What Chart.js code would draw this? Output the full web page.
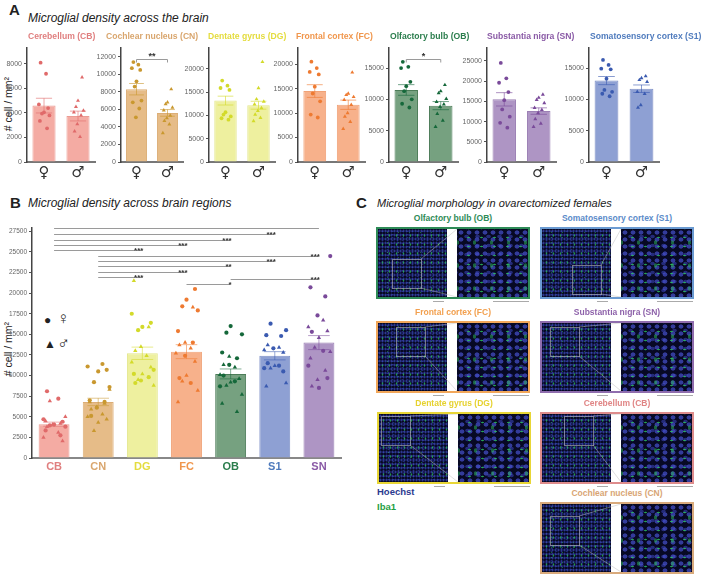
<!DOCTYPE html>
<html>
<head>
<meta charset="utf-8">
<script src="https://cdn.jsdelivr.net/npm/chart.js@4.4.1/dist/chart.umd.min.js"></script>
<style>
    body { margin: 0; background: #fff; width: 702px; height: 576px; position: relative; overflow: hidden;
           font-family: "Liberation Sans", Arial, sans-serif; color: #222; }
    .abs { position: absolute; white-space: nowrap; }
    canvas { position: absolute; }
    .letter { font-weight: bold; font-size: 15px; }
    .ptitle { font-style: italic; font-size: 12px; }
    .sub { font-weight: bold; font-size: 8.6px; }
    .csub { font-weight: bold; font-size: 8.5px; text-align: center; width: 200px; }
    .ylab { font-size: 10.5px; width: 120px; text-align: center; transform: rotate(-90deg); }
    .box { position: absolute; box-sizing: border-box; border: 2px solid; background: #fff; }
    .micro { position: absolute; top: 0; height: 100%; background-color: #070924; }
    .micro-l { background-image:
                   radial-gradient(rgba(40, 190, 80, .75) 0.6px, transparent 1.1px),
                   radial-gradient(rgba(40, 190, 80, .5) 0.5px, transparent 1px),
                   radial-gradient(rgba(60, 75, 190, .7) 0.8px, transparent 1.3px),
                   radial-gradient(rgba(55, 70, 180, .55) 0.7px, transparent 1.2px);
               background-size: 7px 9px, 11px 5px, 3px 4px, 5px 3px;
               background-position: 1px 2px, 4px 1px, 0 0, 2px 1px; }
    .micro-r { background-image:
                   radial-gradient(rgba(45, 200, 95, .8) 0.9px, transparent 1.6px),
                   radial-gradient(rgba(45, 190, 90, .5) 1.2px, transparent 2px),
                   radial-gradient(rgba(70, 80, 205, .7) 2px, transparent 2.8px),
                   radial-gradient(rgba(60, 70, 190, .55) 1.8px, transparent 2.6px);
               background-size: 13px 9px, 17px 23px, 8px 7px, 11px 9px;
               background-position: 5px 4px, 9px 2px, 0 0, 4px 3px; }
    .zoomsq { position: absolute; border: 1px solid rgba(190, 190, 190, .6); }
    .scalebar { position: absolute; height: 1px; background: #aaa; }
</style>
</head>
<body>

<div class="abs letter" style="left:9px; top:1px;">A</div>
<div class="abs ptitle" style="left:28px; top:11px;">Microglial density across the brain</div>
<div class="abs ylab" style="left:-52px; top:98px;"># cell / mm²</div>

<div class="abs letter" style="left:10px; top:194px;">B</div>
<div class="abs ptitle" style="left:28px; top:196px;">Microglial density across brain regions</div>
<div class="abs ylab" style="left:-52px; top:343px;"># cell / mm²</div>
<div class="abs" style="left:44px; top:313px; font-size:12px;">●</div>
<div class="abs" style="left:57px; top:309px; font-size:17px;">♀</div>
<div class="abs" style="left:44px; top:337px; font-size:12px;">▲</div>
<div class="abs" style="left:57px; top:334px; font-size:17px;">♂</div>

<div class="abs letter" style="left:356px; top:194px;">C</div>
<div class="abs ptitle" style="left:377px; top:197px; font-size:11px;">Microglial morphology in ovarectomized females</div>
<div class="abs" style="left:377px; top:486px; font-size:9.5px; font-weight:bold; color:#2b3a8f;">Hoechst</div>
<div class="abs" style="left:377px; top:501px; font-size:9.5px; font-weight:bold; color:#1fa043;">Iba1</div>

<script>
// ---- panel A: per region, female vs male ----
const regionCodes = ['CB', 'CN', 'DG', 'FC', 'OB', 'SN', 'S1'];
const regionNames = ['Cerebellum (CB)', 'Cochlear nucleus (CN)', 'Dentate gyrus (DG)', 'Frontal cortex (FC)',
    'Olfactory bulb (OB)', 'Substantia nigra (SN)', 'Somatosensory cortex (S1)'];
const sexLabels = ['♀', '♂'];

const femaleMean = [4600, 8300, 13200, 14500, 11500, 15500, 13000];
const femaleSem = [600, 650, 950, 1300, 850, 1650, 650];
const maleMean = [3750, 5600, 12200, 11700, 9000, 12600, 11700];
const maleSem = [400, 380, 850, 950, 650, 800, 600];

const femalePoints = [
    [8100, 7200, 4700, 4400, 4050, 3950, 3800, 3350, 2750],
    [11400, 11100, 10700, 10500, 9200, 8600, 7000, 6800, 6100, 5100],
    [17500, 16400, 15900, 15500, 10700, 10200, 9800, 9400, 9100],
    [20500, 19200, 18400, 17900, 15400, 14000, 12400, 9700, 9100],
    [16000, 15200, 15000, 12800, 12100, 11300, 10000, 9300, 8700],
    [24500, 20700, 19600, 17300, 15300, 13000, 11200, 9700, 8500],
    [16300, 15500, 14900, 14800, 13300, 11500, 11200, 10900, 10500],
];
const malePoints = [
    [6900, 5000, 4500, 4200, 4050, 3800, 3100, 2500, 2050],
    [8300, 6800, 6600, 6200, 5900, 5300, 5000, 4700, 4300, 3300],
    [21500, 15900, 13500, 13000, 12400, 11600, 11000, 10200, 9500, 8800],
    [18300, 14000, 13700, 13300, 12700, 11700, 10000, 9300, 8200, 6800],
    [12300, 11300, 11000, 10100, 9600, 9200, 8800, 7700, 6600, 5600],
    [16700, 15900, 15400, 14600, 13400, 12900, 12100, 10600, 9500, 8700],
    [13700, 13400, 13100, 12800, 11200, 10900, 9100, 8700],
];

const axisMaxA = [9300, 13000, 24500, 23300, 18200, 28200, 18200];
const tickStepA = [2000, 2000, 5000, 5000, 5000, 5000, 5000];
// sex comparison brackets: region index, height, label
const sexBrackets = [
    {region: 1, value: 11800, label: '**'},
    {region: 4, value: 16400, label: '*'},
];

// ---- panel B: all regions ----
const bRegions = ['CB', 'CN', 'DG', 'FC', 'OB', 'S1', 'SN'];
const bMean = [4100, 6800, 12700, 12900, 10200, 12400, 14000];
const bSem = [250, 450, 750, 850, 600, 500, 850];
const bTickStep = 2500;
const bAxisMax = 27900;
const bCompFrom = ['CB', 'CB', 'CB', 'CB', 'CB', 'CN', 'CN', 'CN', 'CN', 'CN', 'OB', 'FC'];
const bCompTo = ['SN', 'S1', 'OB', 'FC', 'DG', 'SN', 'S1', 'OB', 'FC', 'DG', 'SN', 'OB'];
const bCompLabel = ['', '***', '***', '***', '***', '***', '***', '**', '***', '***', '***', '*'];
const bCompLevel = [27870, 27150, 26500, 25850, 25200, 24550, 23900, 23260, 22600, 21970, 21760, 21100];

// fixed horizontal spread of dots inside a bar
const jitter = [-0.10, 0.06, -0.15, 0.12, 0.0, -0.06, 0.16, -0.12, 0.09, -0.02];

const colors = {
    CB: {bar: '#f4aba3', edge: '#eb9c94', dot: '#e06a6a', text: '#e07f7f'},
    CN: {bar: '#e6bc88', edge: '#dcae76', dot: '#c9982f', text: '#d9a66e'},
    DG: {bar: '#eef09f', edge: '#e3e68a', dot: '#d3da2a', text: '#e4dc3e'},
    FC: {bar: '#f7b18b', edge: '#f0a277', dot: '#ee7a31', text: '#f0964c'},
    OB: {bar: '#76a180', edge: '#4c7c58', dot: '#15683a', text: '#2a7d4c'},
    SN: {bar: '#ae95c4', edge: '#9c80b5', dot: '#7a4a9a', text: '#8a5aa6'},
    S1: {bar: '#8ea0d3', edge: '#7d8fc6', dot: '#3a5ab0', text: '#4f7bbd'},
};

const annotatePlugin = {
    id: 'annotate',
    afterDatasetDraw(chart, args, opts) {
        if (args.index !== 0) {
            return;
        }
        const ctx = chart.ctx;
        const yScale = chart.scales.y;
        ctx.save();
        ctx.lineWidth = 1;
        chart.getDatasetMeta(0).data.forEach((bar, k) => {
            const half = bar.width * 0.35;
            const top = yScale.getPixelForValue(opts.means[k] + opts.sems[k]);
            const bottom = yScale.getPixelForValue(opts.means[k] - opts.sems[k]);
            ctx.strokeStyle = opts.colors[k];
            ctx.beginPath();
            ctx.moveTo(bar.x - half, top);
            ctx.lineTo(bar.x + half, top);
            ctx.moveTo(bar.x - half, bottom);
            ctx.lineTo(bar.x + half, bottom);
            ctx.moveTo(bar.x, top);
            ctx.lineTo(bar.x, bottom);
            ctx.stroke();
        });
        ctx.restore();
    },
    afterDatasetsDraw(chart, args, opts) {
        const ctx = chart.ctx;
        const xScale = chart.scales.x;
        const yScale = chart.scales.y;
        ctx.save();
        ctx.strokeStyle = '#9a9a9a';
        ctx.fillStyle = '#333';
        ctx.lineWidth = 1;
        (opts.brackets || []).forEach(b => {
            const x1 = xScale.getPixelForValue(b.from);
            const x2 = xScale.getPixelForValue(b.to);
            const y = Math.round(yScale.getPixelForValue(b.value)) + 0.5;
            ctx.beginPath();
            if (b.ends) {
                ctx.moveTo(x1, y + 3);
                ctx.lineTo(x1, y);
                ctx.lineTo(x2, y);
                ctx.lineTo(x2, y + 3);
            } else {
                ctx.moveTo(x1, y);
                ctx.lineTo(x2, y);
            }
            ctx.stroke();
            if (b.label) {
                ctx.font = `bold ${b.ends ? 9 : 8}px "Liberation Sans", Arial`;
                ctx.textAlign = b.ends ? 'center' : 'right';
                ctx.textBaseline = 'alphabetic';
                ctx.fillText(b.label, b.ends ? (x1 + x2) / 2 : x2 + 1, y + (b.ends ? -1 : 2.5));
            }
        });
        ctx.restore();
    }
};

function placeCanvas(left, top, width, height) {
    const canvas = document.createElement('canvas');
    canvas.width = width;
    canvas.height = height;
    canvas.style.left = left + 'px';
    canvas.style.top = top + 'px';
    canvas.style.width = width + 'px';
    canvas.style.height = height + 'px';
    document.body.appendChild(canvas);
    return canvas;
}

function addText(cls, text, left, top, color) {
    const div = document.createElement('div');
    div.className = 'abs ' + cls;
    div.textContent = text;
    div.style.left = left + 'px';
    div.style.top = top + 'px';
    if (color) {
        div.style.color = color;
    }
    document.body.appendChild(div);
    return div;
}

function yAxisOptions(max, step, width, fontSize) {
    return {
        min: 0,
        max: max,
        grid: {display: true, drawOnChartArea: false, drawTicks: true, tickLength: 3, color: '#555'},
        border: {color: '#444', width: 1.5},
        ticks: {color: '#666', font: {size: fontSize}, padding: 2, autoSkip: false, callback: v => String(v)},
        afterBuildTicks: scale => {
            const ticks = [];
            for (let v = 0; v <= max; v += step) {
                ticks.push({value: v});
            }
            scale.ticks = ticks;
        },
        afterFit: scale => {
            scale.width = width;
        },
    };
}

// hidden linear axis used to spread the dots around each category centre
function jitterAxis(count) {
    return {
        type: 'linear',
        min: -0.5,
        max: count - 0.5,
        offset: false,
        bounds: 'data',
        grid: {offset: false},
        display: false,
    };
}

// panel A chart areas: y axis x position, axis right end, title start
const axisLeftA = [27, 121, 209, 298, 389, 487, 589];
const axisRightA = [97, 185, 277, 367, 460, 558, 661];
const titleLeftA = [28, 106, 208, 296, 390, 487, 590];

regionCodes.forEach((code, i) => {
    const yAxisWidth = 28;
    const left = axisLeftA[i] - yAxisWidth;
    const width = axisRightA[i] - left + 2;
    const canvas = placeCanvas(left, 40, width, 144);
    const c = colors[code];

    addText('sub', regionNames[i], titleLeftA[i], 31, c.text);

    const brackets = sexBrackets
        .filter(b => b.region === i)
        .map(b => ({from: 0, to: 1, value: b.value, label: b.label, ends: true}));

    new Chart(canvas, {
        type: 'bar',
        data: {
            labels: sexLabels,
            datasets: [
                {
                    type: 'bar',
                    data: [femaleMean[i], maleMean[i]],
                    backgroundColor: c.bar,
                    borderColor: c.edge,
                    borderWidth: 1,
                    grouped: false,
                    barPercentage: 0.68,
                    categoryPercentage: 1,
                    order: 2,
                },
                {
                    type: 'scatter',
                    xAxisID: 'xj',
                    data: femalePoints[i].map((v, k) => ({x: jitter[k % jitter.length], y: v})),
                    pointStyle: 'circle',
                    radius: 1.9,
                    backgroundColor: c.dot,
                    borderWidth: 0,
                    order: 1,
                },
                {
                    type: 'scatter',
                    xAxisID: 'xj',
                    data: malePoints[i].map((v, k) => ({x: 1 + jitter[(k + 3) % jitter.length], y: v})),
                    pointStyle: 'triangle',
                    radius: 2.3,
                    backgroundColor: c.dot,
                    borderWidth: 0,
                    order: 1,
                },
            ]
        },
        options: {
            responsive: false,
            animation: false,
            events: [],
            devicePixelRatio: 1,
            layout: {padding: {top: 8, left: 0, right: 2, bottom: 0}},
            plugins: {
                legend: {display: false},
                tooltip: {enabled: false},
                annotate: {
                    means: [femaleMean[i], maleMean[i]],
                    sems: [femaleSem[i], maleSem[i]],
                    colors: [c.dot + '99', c.dot + '99'],
                    brackets: brackets,
                },
            },
            scales: {
                x: {
                    type: 'category',
                    offset: true,
                    grid: {display: false, drawTicks: false},
                    border: {color: '#777', width: 2},
                    ticks: {color: '#333', font: {size: 15, family: '"DejaVu Sans"'}, padding: 2},
                    afterFit: scale => {
                        scale.height = 22;
                    },
                },
                xj: jitterAxis(2),
                y: yAxisOptions(axisMaxA[i], tickStepA[i], yAxisWidth, 7),
            }
        },
        plugins: [annotatePlugin]
    });
});

// ---- panel B ----
(function () {
    const canvas = placeCanvas(0, 220, 345, 258);
    const order = bRegions.map(code => regionCodes.indexOf(code));
    const femaleData = [];
    const maleData = [];
    order.forEach((r, i) => {
        femalePoints[r].forEach((v, k) => femaleData.push({x: i + 1.6 * jitter[(k + i) % jitter.length], y: v, code: bRegions[i]}));
        malePoints[r].forEach((v, k) => maleData.push({x: i + 1.6 * jitter[(k + i + 5) % jitter.length], y: v, code: bRegions[i]}));
    });

    const brackets = bCompFrom.map((from, k) => ({
        from: bRegions.indexOf(from),
        to: bRegions.indexOf(bCompTo[k]),
        value: bCompLevel[k],
        label: bCompLabel[k],
        ends: false,
    }));

    new Chart(canvas, {
        type: 'bar',
        data: {
            labels: bRegions,
            datasets: [
                {
                    type: 'bar',
                    data: bMean,
                    backgroundColor: bRegions.map(code => colors[code].bar),
                    borderColor: bRegions.map(code => colors[code].edge),
                    borderWidth: 1,
                    grouped: false,
                    barPercentage: 0.7,
                    categoryPercentage: 1,
                    order: 2,
                },
                {
                    type: 'scatter',
                    xAxisID: 'xj',
                    data: femaleData,
                    pointStyle: 'circle',
                    radius: 2.1,
                    backgroundColor: ctx => colors[ctx.raw ? ctx.raw.code : 'CB'].dot,
                    borderWidth: 0,
                    order: 1,
                },
                {
                    type: 'scatter',
                    xAxisID: 'xj',
                    data: maleData,
                    pointStyle: 'triangle',
                    radius: 2.5,
                    backgroundColor: ctx => colors[ctx.raw ? ctx.raw.code : 'CB'].dot,
                    borderWidth: 0,
                    order: 1,
                },
            ]
        },
        options: {
            responsive: false,
            animation: false,
            events: [],
            devicePixelRatio: 1,
            layout: {padding: {top: 8, left: 0, right: 2, bottom: 0}},
            plugins: {
                legend: {display: false},
                tooltip: {enabled: false},
                annotate: {
                    means: bMean,
                    sems: bSem,
                    colors: bRegions.map(code => colors[code].dot + '88'),
                    brackets: brackets,
                },
            },
            scales: {
                x: {
                    type: 'category',
                    offset: true,
                    grid: {display: false, drawTicks: false},
                    border: {color: '#888', width: 2},
                    ticks: {
                        color: ctx => colors[bRegions[ctx.index]].text,
                        font: {size: 11, weight: 'bold'},
                        padding: 2,
                    },
                    afterFit: scale => {
                        scale.height = 20;
                    },
                },
                xj: jitterAxis(bRegions.length),
                y: yAxisOptions(bAxisMax, bTickStep, 32, 6.5),
            }
        },
        plugins: [annotatePlugin]
    });
})();

// ---- panel C: image tiles (placeholders for the micrographs) ----
const cTiles = [
    ['Olfactory bulb (OB)', '#2e8b57', '#2e8b57', 376, 227, 14, 30],
    ['Somatosensory cortex (S1)', '#6b9bd2', '#5b8bc9', 540, 227, 30, 36],
    ['Frontal cortex (FC)', '#f2a75a', '#f2a04f', 376, 321, 18, 4],
    ['Substantia nigra (SN)', '#8f6dae', '#8e62aa', 540, 321, 8, 4],
    ['Dentate gyrus (DG)', '#e8d636', '#e6d22e', 377, 412, 2, 2],
    ['Cerebellum (CB)', '#de8c8c', '#e08585', 540, 412, 22, 2],
    ['Cochlear nucleus (CN)', '#d9aa7c', '#d9a574', 540, 502, 8, 12],
];

cTiles.forEach(([name, border, text, x, y, sqx, sqy]) => {
    const w = 154, h = 72;
    addText('csub', name, x + w / 2 - 100, y - 14, text);

    const box = document.createElement('div');
    box.className = 'box';
    box.style.cssText += `left:${x}px; top:${y}px; width:${w}px; height:${h}px; border-color:${border};`;
    box.innerHTML =
        `<div class="micro micro-l" style="left:0; width:69px;"></div>` +
        `<div class="micro micro-r" style="left:79px; width:71px;"></div>` +
        `<div class="zoomsq" style="left:${sqx}px; top:${sqy}px; width:28px; height:28px;"></div>` +
        `<svg width="150" height="68" style="position:absolute; left:0; top:0;">` +
        `<line x1="${sqx + 29}" y1="${sqy}" x2="79" y2="0" stroke="rgba(190,190,190,.6)" stroke-width="0.8"/>` +
        `<line x1="${sqx + 29}" y1="${sqy + 29}" x2="79" y2="68" stroke="rgba(190,190,190,.6)" stroke-width="0.8"/>` +
        `</svg>`;
    document.body.appendChild(box);

    const bar1 = document.createElement('div');
    bar1.className = 'scalebar';
    bar1.style.cssText += `left:${x + 57}px; top:${y + h + 2}px; width:11px;`;
    document.body.appendChild(bar1);
    const bar2 = document.createElement('div');
    bar2.className = 'scalebar';
    bar2.style.cssText += `left:${x + 117}px; top:${y + h + 2}px; width:36px;`;
    document.body.appendChild(bar2);
});
</script>
</body>
</html>
